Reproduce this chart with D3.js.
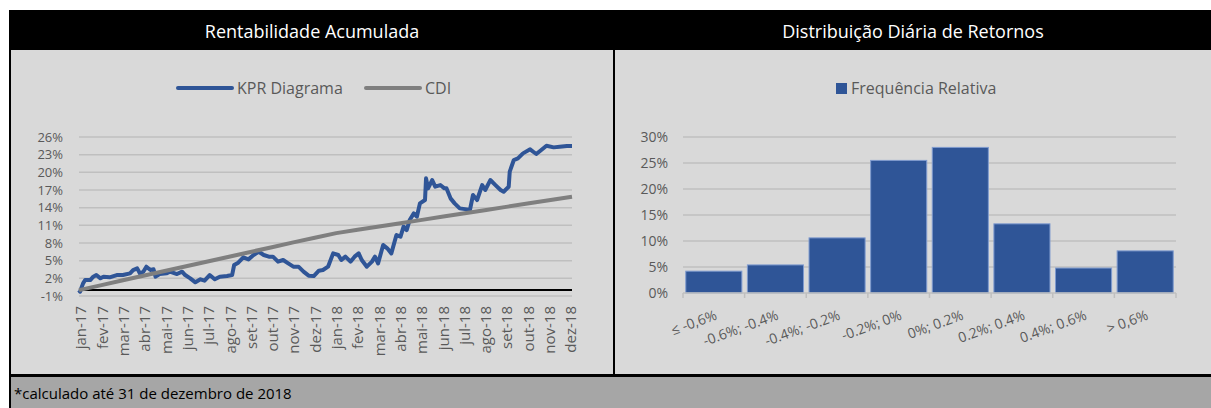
<!DOCTYPE html>
<html><head><meta charset="utf-8">
<script src="https://cdn.jsdelivr.net/npm/d3@7"></script>
<style>
html,body{margin:0;padding:0;background:#fff;}
text{font-family:"Open Sans",sans-serif;}
</style></head>
<body>
<svg id="c" width="1211" height="408"></svg>
<script>
// ---------- DATA ----------
const leftTitle = "Rentabilidade Acumulada";
const rightTitle = "Distribuição Diária de Retornos";
const footNote = "*calculado até 31 de dezembro de 2018";

const monthLabels = ["jan-17","fev-17","mar-17","abr-17","mai-17","jun-17","jul-17","ago-17","set-17","out-17","nov-17","dez-17",
  "jan-18","fev-18","mar-18","abr-18","mai-18","jun-18","jul-18","ago-18","set-18","out-18","nov-18","dez-18"];
const lineTicks = [-1,2,5,8,11,14,17,20,23,26];

// trading-day index (0..483) and cumulative return (%)
const kprIdx = [0,1,4,6,11,14,17,21,24,30,37,43,50,53,57,60,63,66,70,73,75,79,86,89,96,101,104,109,114,119,123,128,133,138,145,150,
  152,156,161,166,171,176,181,186,190,195,200,205,210,215,220,225,230,235,239,244,249,254,257,261,266,270,274,277,282,287,290,293,
  298,302,306,311,315,318,321,324,328,331,334,339,340,342,346,349,354,358,360,364,368,373,380,383,386,390,395,398,403,408,413,416,
  421,422,426,430,435,442,445,448,452,458,465,471,478,483];
const kprVal = [0,-0.27,1.15,1.71,1.71,2.28,2.56,2.00,2.28,2.17,2.56,2.56,2.85,3.41,3.70,2.73,3.13,3.98,3.41,3.53,2.28,2.73,2.85,3.13,2.73,3.13,
  2.56,2.00,1.32,1.83,1.60,2.56,1.83,2.28,2.39,2.56,
  4.26,4.66,5.56,5.22,5.96,6.52,5.96,5.68,5.68,4.83,5.11,4.54,3.98,3.98,3.13,2.45,2.39,3.30,3.41,3.98,6.24,5.96,5.11,5.68,4.83,5.68,6.24,5.11,3.98,4.83,5.68,4.54,
  7.66,7.09,6.24,9.35,9.07,10.77,10.20,11.90,13.03,12.47,14.73,15.30,18.98,17.28,18.69,17.56,17.84,17.28,17.28,15.58,14.73,13.88,13.71,13.60,16.15,15.30,17.84,17.00,18.69,17.84,17.00,16.71,
  17.56,20.11,22.09,22.37,23.22,23.90,23.50,23.11,23.67,24.52,24.24,24.35,24.47,24.47];

const cdiIdx = [0,21,42,63,84,105,126,147,168,189,210,231,252,273,294,315,336,357,378,399,420,441,462,483];
const cdiVal = [0,0.81,1.62,2.43,3.24,4.05,4.86,5.67,6.48,7.29,8.10,8.90,9.68,10.24,10.80,11.37,11.93,12.49,13.05,13.61,14.18,14.74,15.30,15.86];

const lineSeries = ["KPR Diagrama","CDI"];

const binLabels = ["≤ -0,6%","-0.6%; -0.4%","-0.4%; -0.2%","-0.2%; 0%","0%; 0.2%","0.2%; 0.4%","0.4%; 0.6%","> 0,6%"];
const binFreq = [4.2,5.4,10.6,25.5,28.0,13.3,4.8,8.1];
const barTicks = [0,5,10,15,20,25,30];
const barSeries = "Frequência Relativa";

// ---------- STYLE ----------
const BLUE = "#2f5597", GRAY = "#7f7f7f", PANEL = "#d9d9d9", GRID = "#bfbfbf", TXT = "#595959";

const svg = d3.select("#c");
// frame
svg.append("rect").attr("x",9).attr("y",10).attr("width",1202).attr("height",398).attr("fill","#000");
svg.append("rect").attr("x",11).attr("y",50).attr("width",602).attr("height",324).attr("fill",PANEL);
svg.append("rect").attr("x",615).attr("y",50).attr("width",596).attr("height",324).attr("fill",PANEL);
svg.append("rect").attr("x",11).attr("y",377).attr("width",1200).attr("height",31).attr("fill","#a6a6a6");

svg.append("text").attr("x",312).attr("y",31).attr("text-anchor","middle").attr("dominant-baseline","central")
  .attr("fill","#fff").attr("font-size",18).text(leftTitle);
svg.append("text").attr("x",913).attr("y",31).attr("text-anchor","middle").attr("dominant-baseline","central")
  .attr("fill","#fff").attr("font-size",18).text(rightTitle);
svg.append("text").attr("x",14).attr("y",393).attr("dominant-baseline","central")
  .attr("fill","#000").attr("font-size",15).text(footNote);

// ---------- LEFT: line chart ----------
const x = d3.scaleLinear().domain([0,483]).range([79,572]);
const y = d3.scaleLinear().domain([-1,26]).range([296,137]);
const xl = d3.scalePoint().domain(monthLabels).range([81,571]);

const gL = svg.append("g");
gL.selectAll("line.grid").data(lineTicks).join("line")
  .attr("x1",79).attr("x2",572).attr("y1",d=>y(d)).attr("y2",d=>y(d))
  .attr("stroke",GRID).attr("stroke-width",1.5);

const yAxisL = gL.append("g").attr("transform","translate(79,0)")
  .call(d3.axisLeft(y).tickValues(lineTicks).tickFormat(d=>d+"%").tickSize(0).tickPadding(16));
yAxisL.select(".domain").remove();
yAxisL.selectAll("text").attr("fill",TXT).attr("font-size",13).attr("font-family","Open Sans");

gL.append("line").attr("x1",79).attr("x2",572).attr("y1",y(0)).attr("y2",y(0)).attr("stroke","#000").attr("stroke-width",2);

gL.selectAll("text.mlab").data(monthLabels).join("text")
  .attr("class","mlab")
  .attr("transform",d=>`translate(${xl(d)},306) rotate(-90)`)
  .attr("text-anchor","end").attr("dy","0.36em")
  .attr("fill",TXT).attr("font-size",15).text(d=>d);

const line = d3.line().x(d=>x(d[0])).y(d=>y(d[1]));
gL.append("path").datum(d3.zip(kprIdx,kprVal)).attr("d",line)
  .attr("fill","none").attr("stroke",BLUE).attr("stroke-width",4).attr("stroke-linejoin","round");
gL.append("path").datum(d3.zip(cdiIdx,cdiVal)).attr("d",line)
  .attr("fill","none").attr("stroke",GRAY).attr("stroke-width",4).attr("stroke-linejoin","round");

// legend left
const legL = [{n:lineSeries[0],c:BLUE,x:178},{n:lineSeries[1],c:GRAY,x:366}];
legL.forEach(l=>{
  gL.append("line").attr("x1",l.x).attr("x2",l.x+54).attr("y1",88).attr("y2",88)
    .attr("stroke",l.c).attr("stroke-width",4).attr("stroke-linecap","round");
  gL.append("text").attr("x",l.x+59).attr("y",88).attr("dominant-baseline","central")
    .attr("fill",TXT).attr("font-size",16).text(l.n);
});

// ---------- RIGHT: histogram ----------
const xb = d3.scaleBand().domain(binLabels).range([683,1176]).paddingInner(0.09).paddingOuter(0.045);
const yb = d3.scaleLinear().domain([0,30]).range([293,137]);
const gR = svg.append("g");

gR.selectAll("line.grid").data(barTicks.slice(1)).join("line")
  .attr("x1",683).attr("x2",1176).attr("y1",d=>yb(d)).attr("y2",d=>yb(d))
  .attr("stroke",GRID).attr("stroke-width",1.5);

const yAxisR = gR.append("g").attr("transform","translate(683,0)")
  .call(d3.axisLeft(yb).tickValues(barTicks).tickFormat(d=>d+"%").tickSize(0).tickPadding(15));
yAxisR.select(".domain").remove();
yAxisR.selectAll("text").attr("fill",TXT).attr("font-size",14).attr("font-family","Open Sans");

gR.selectAll("rect.bar").data(binLabels).join("rect")
  .attr("x",d=>xb(d)).attr("width",xb.bandwidth())
  .attr("y",(d,i)=>yb(binFreq[i])).attr("height",(d,i)=>yb(0)-yb(binFreq[i]))
  .attr("fill",BLUE).attr("stroke","#7f9bcf").attr("stroke-width",1);

gR.append("line").attr("x1",683).attr("x2",1176).attr("y1",yb(0)).attr("y2",yb(0))
  .attr("stroke",GRID).attr("stroke-width",1.5);
const step = xb.step();
const tickPos = binLabels.map(d=>xb(d) - (step-xb.bandwidth())/2).concat([1176]);
gR.selectAll("line.tk").data(tickPos).join("line")
  .attr("x1",d=>d).attr("x2",d=>d).attr("y1",yb(0)).attr("y2",yb(0)+5)
  .attr("stroke",GRID).attr("stroke-width",1.5);

gR.selectAll("text.blab").data(binLabels).join("text")
  .attr("transform",d=>`translate(${xb(d)+xb.bandwidth()/2+4},319) rotate(-20)`)
  .attr("text-anchor","end").attr("fill",TXT).attr("font-size",14).text(d=>d);

// legend right
gR.append("rect").attr("x",836).attr("y",83).attr("width",11).attr("height",11).attr("fill",BLUE);
gR.append("text").attr("x",851).attr("y",88).attr("dominant-baseline","central")
  .attr("fill",TXT).attr("font-size",16).text(barSeries);
</script>
</body></html>
